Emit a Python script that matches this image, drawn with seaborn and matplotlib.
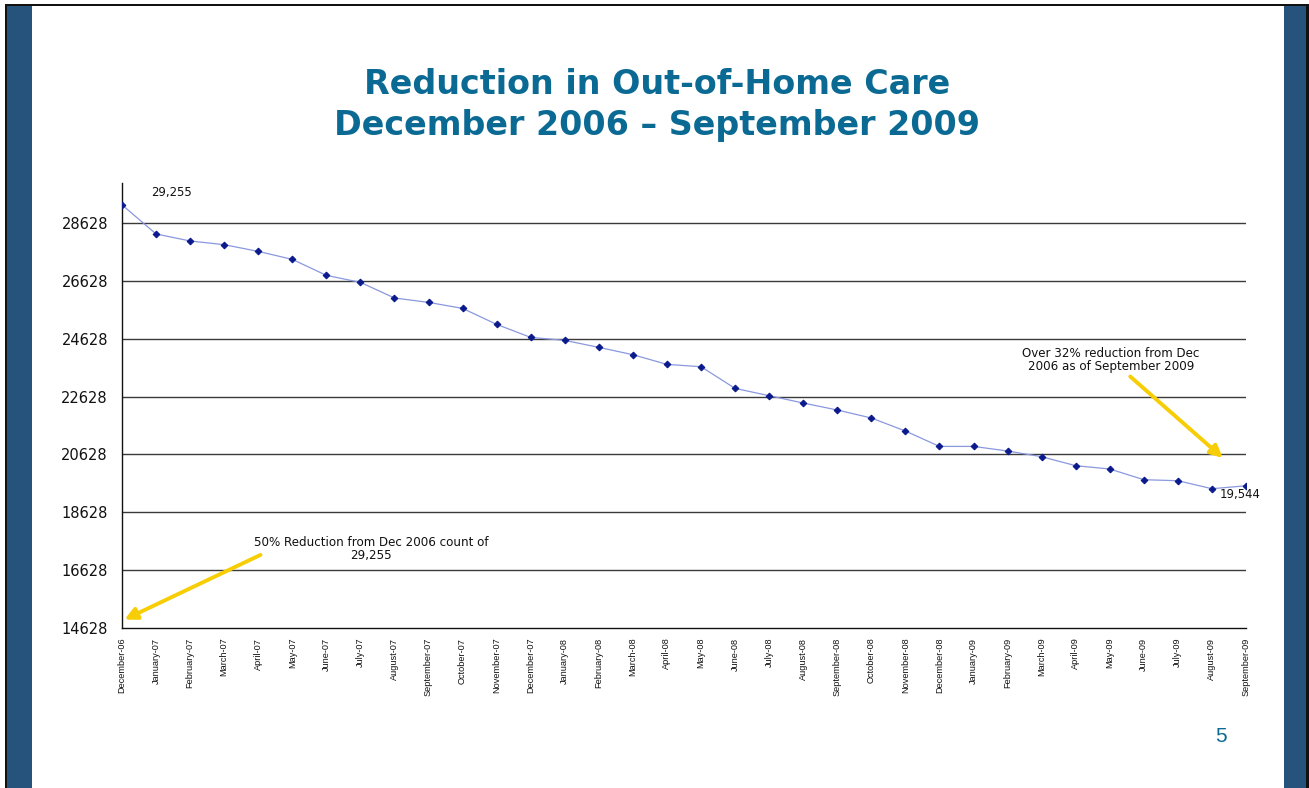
import matplotlib
matplotlib.use("Agg")
import matplotlib.pyplot as plt
from matplotlib.patches import Rectangle
import seaborn as sns
import pandas as pd

# Monthly out-of-home care counts, December 2006 through September 2009
months = [
    "December-06", "January-07", "February-07", "March-07", "April-07", "May-07",
    "June-07", "July-07", "August-07", "September-07", "October-07", "November-07",
    "December-07", "January-08", "February-08", "March-08", "April-08", "May-08",
    "June-08", "July-08", "August-08", "September-08", "October-08", "November-08",
    "December-08", "January-09", "February-09", "March-09", "April-09", "May-09",
    "June-09", "July-09", "August-09", "September-09",
]
counts = [
    29255, 28248, 28006, 27878, 27646, 27370,
    26817, 26575, 26035, 25883, 25676, 25123,
    24673, 24570, 24328, 24075, 23740, 23660,
    22910, 22658, 22405, 22163, 21887, 21437,
    20905, 20905, 20746, 20549, 20238, 20124,
    19754, 19719, 19443, 19544,
]
y_ticks = [14628, 16628, 18628, 20628, 22628, 24628, 26628, 28628]

title_lines = ["Reduction in Out-of-Home Care", "December 2006 \u2013 September 2009"]
note_right = "Over 32% reduction from Dec\n2006 as of September 2009"
note_left = "50% Reduction from Dec 2006 count of\n29,255"

df = pd.DataFrame({"pos": range(len(months)), "month": months, "count": counts})

sns.set_theme(style="white")
plt.rcParams["font.family"] = ["DejaVu Sans"]

W, H = 1309, 788
fig = plt.figure(figsize=(W / 100, H / 100), dpi=100)
fig.patch.set_facecolor("white")

band = "#25537B"
frame = "#111111"
title_color = "#0B6A93"

def px_rect(x0, y0, x1, y1, color):
    fig.patches.append(Rectangle((x0 / W, 1 - y1 / H), (x1 - x0) / W, (y1 - y0) / H,
                                 transform=fig.transFigure, color=color, zorder=0, lw=0))

# slide frame and side bands
px_rect(5, 4, 1309, 6, frame)
px_rect(5, 4, 7, 788, frame)
px_rect(1306, 4, 1309, 788, frame)
px_rect(7, 6, 32, 788, band)
px_rect(1284, 6, 1306, 788, band)

ax = fig.add_axes([122 / W, 1 - 628 / H, 1124 / W, 445 / H])
ax.set_facecolor("white")

sns.lineplot(data=df, x="pos", y="count", ax=ax, color="#8A98DE", lw=0.9,
             marker="D", markersize=3.4, markerfacecolor="#0A1A8C",
             markeredgecolor="#0A1A8C", zorder=3)

ax.set_xlim(0, len(months) - 1)
ax.set_ylim(14628, 30010)
ax.set_yticks(y_ticks)
ax.set_yticklabels([str(v) for v in y_ticks], fontsize=10.5, color="#111111")
ax.set_xticks(df["pos"])
ax.set_xticklabels(months, rotation=90, fontsize=6.6,
                   family=["Liberation Sans Narrow", "Liberation Sans"], color="#111111")
ax.set_xlabel("")
ax.set_ylabel("")

for v in y_ticks[1:]:
    ax.axhline(v, color="#3a3a3a", lw=1.0, zorder=1)

for s in ["top", "right"]:
    ax.spines[s].set_visible(False)
for s in ["left", "bottom"]:
    ax.spines[s].set_color("#111111")
    ax.spines[s].set_linewidth(1.0)
ax.tick_params(axis="y", direction="out", length=3.6, width=1, color="#111111", pad=6.5)
ax.tick_params(axis="x", direction="out", length=3, width=1, color="#111111", pad=4)
ax.grid(False)

# value labels at the first and last months
ax.annotate(f"{counts[0]:,}", xy=(0, counts[0]), xytext=(49, 12), textcoords="offset pixels",
            ha="center", va="center", fontsize=8.4, color="#111111")
ax.annotate(f"{counts[-1]:,}", xy=(len(counts) - 1, counts[-1]), xytext=(-6, -9),
            textcoords="offset pixels", ha="center", va="center", fontsize=8.4,
            color="#111111")

# callout notes with arrows
arrow_color = "#F7CE05"
ax.annotate("", xy=(32.38, 20445), xytext=(29.54, 23384),
            arrowprops=dict(arrowstyle="-|>,head_length=0.6,head_width=0.3",
                            color=arrow_color, lw=2.8), zorder=4)
ax.annotate("", xy=(0.0, 14879), xytext=(4.14, 17196),
            arrowprops=dict(arrowstyle="-|>,head_length=0.6,head_width=0.3",
                            color=arrow_color, lw=2.8), zorder=4, annotation_clip=False)
ax.text(29.04, 23885, note_right, ha="center", va="center", fontsize=8.6,
        color="#111111", linespacing=1.05)
ax.text(7.31, 17351, note_left, ha="center", va="center", fontsize=8.6,
        color="#111111", linespacing=1.05)

# title and page number
fig.text(657 / W, 1 - 84 / H, title_lines[0], ha="center", va="center",
         fontsize=24, color=title_color, fontweight="bold")
fig.text(657 / W, 1 - 126 / H, title_lines[1], ha="center", va="center",
         fontsize=24, color=title_color, fontweight="bold")
fig.text(1221 / W, 1 - 737 / H, "5", ha="center", va="center",
         fontsize=15, color=title_color, family=["Liberation Sans"])

fig.savefig("out.png", dpi=100, facecolor="white")
